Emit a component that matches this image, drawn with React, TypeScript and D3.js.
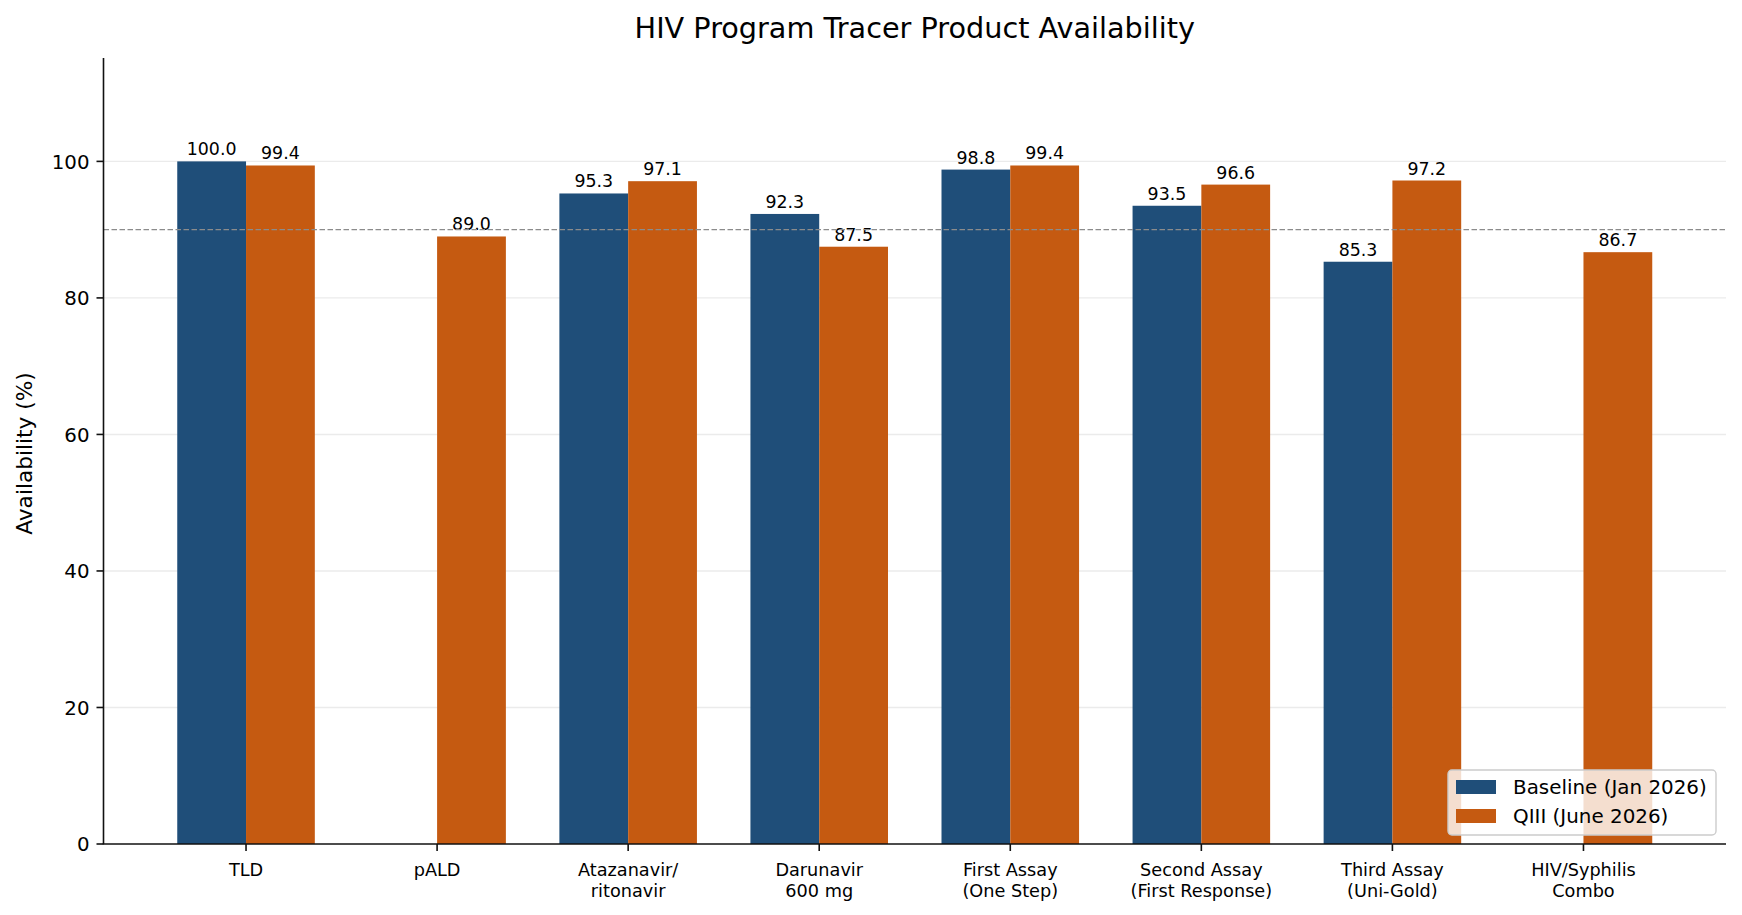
import { useEffect, useRef } from "react";
import * as d3 from "d3";

const categories = [
  ["TLD"],
  ["pALD"],
  ["Atazanavir/", "ritonavir"],
  ["Darunavir", "600 mg"],
  ["First Assay", "(One Step)"],
  ["Second Assay", "(First Response)"],
  ["Third Assay", "(Uni-Gold)"],
  ["HIV/Syphilis", "Combo"],
];
const baseline: (number | null)[] = [100.0, null, 95.3, 92.3, 98.8, 93.5, 85.3, null];
const q3: (number | null)[] = [99.4, 89.0, 97.1, 87.5, 99.4, 96.6, 97.2, 86.7];
const seriesNames = ["Baseline (Jan 2026)", "QIII (June 2026)"];
const seriesColors = ["#1f4e79", "#c55a11"];
const yTicks = [0, 20, 40, 60, 80, 100];
const targetLine = 90;

const W = 1742;
const H = 915;
const FONT = "'DejaVu Sans', sans-serif";

export default function App() {
  const svgRef = useRef<SVGSVGElement>(null);

  useEffect(() => {
    if (!svgRef.current) return;
    const svg = d3.select(svgRef.current);
    svg.selectAll("*").remove();

    const left = 103.5, right = 1726, top = 59, bottom = 844;
    const barW = 0.36;
    const pad = 0.05 * (categories.length - 1 + barW * 2);
    const x = d3.scaleLinear()
      .domain([-barW - pad, categories.length - 1 + barW + pad])
      .range([left, right]);
    const y = d3.scaleLinear().domain([0, 115]).range([bottom, top]);

    svg.append("rect").attr("width", W).attr("height", H).attr("fill", "#fff");

    // grid
    svg.append("g")
      .selectAll("line")
      .data(yTicks.filter((t) => t > 0))
      .enter()
      .append("line")
      .attr("x1", left)
      .attr("x2", right)
      .attr("y1", (d) => y(d))
      .attr("y2", (d) => y(d))
      .style("stroke", "#ebebeb")
      .style("stroke-width", 1.4);

    // bars
    const series = [baseline, q3];
    series.forEach((vals, s) => {
      const off = s === 0 ? -barW / 2 : barW / 2;
      const data = vals
        .map((v, i) => ({ v, i }))
        .filter((d) => d.v !== null) as { v: number; i: number }[];
      const g = svg.append("g");
      g.selectAll("rect")
        .data(data)
        .enter()
        .append("rect")
        .attr("x", (d) => x(d.i + off - barW / 2))
        .attr("width", x(barW) - x(0))
        .attr("y", (d) => y(d.v))
        .attr("height", (d) => y(0) - y(d.v))
        .style("fill", seriesColors[s]);
      g.selectAll("text")
        .data(data)
        .enter()
        .append("text")
        .attr("x", (d) => x(d.i + off))
        .attr("y", (d) => y(d.v) - 6)
        .attr("text-anchor", "middle")
        .style("font-family", FONT)
        .style("font-size", "17.4px")
        .style("fill", "#000")
        .text((d) => d.v.toFixed(1));
    });

    // target line
    svg.append("line")
      .attr("x1", left)
      .attr("x2", right)
      .attr("y1", y(targetLine))
      .attr("y2", y(targetLine))
      .style("stroke", "#8c8c8c")
      .style("stroke-width", 1.3)
      .style("stroke-dasharray", "5.5,2.5");

    // spines
    svg.append("line")
      .attr("x1", left).attr("x2", left)
      .attr("y1", top - 1).attr("y2", bottom)
      .style("stroke", "#111").style("stroke-width", 1.6);
    svg.append("line")
      .attr("x1", left - 0.8).attr("x2", right)
      .attr("y1", bottom).attr("y2", bottom)
      .style("stroke", "#111").style("stroke-width", 1.6);

    // y ticks
    const yt = svg.append("g");
    yTicks.forEach((t) => {
      yt.append("line")
        .attr("x1", left - 7).attr("x2", left)
        .attr("y1", y(t)).attr("y2", y(t))
        .style("stroke", "#111").style("stroke-width", 1.6);
      yt.append("text")
        .attr("x", left - 14)
        .attr("y", y(t))
        .attr("dy", "0.36em")
        .attr("text-anchor", "end")
        .style("font-family", FONT)
        .style("font-size", "19.8px")
        .style("fill", "#000")
        .text(t);
    });

    // x ticks
    const xt = svg.append("g");
    categories.forEach((lines, i) => {
      xt.append("line")
        .attr("x1", x(i)).attr("x2", x(i))
        .attr("y1", bottom).attr("y2", bottom + 7)
        .style("stroke", "#111").style("stroke-width", 1.6);
      const txt = xt.append("text")
        .attr("text-anchor", "middle")
        .style("font-family", FONT)
        .style("font-size", "17.7px")
        .style("fill", "#000");
      lines.forEach((l, k) => {
        txt.append("tspan")
          .attr("x", x(i))
          .attr("y", bottom + 32 + k * 20.5)
          .text(l);
      });
    });

    // y label
    svg.append("text")
      .attr("transform", `translate(31.6,${(top + bottom) / 2 + 2}) rotate(-90)`)
      .attr("text-anchor", "middle")
      .style("font-family", FONT)
      .style("font-size", "21.7px")
      .style("fill", "#000")
      .text("Availability (%)");

    // title
    svg.append("text")
      .attr("x", (left + right) / 2)
      .attr("y", 38)
      .attr("text-anchor", "middle")
      .style("font-family", FONT)
      .style("font-size", "28.7px")
      .style("fill", "#000")
      .text("HIV Program Tracer Product Availability");

    // legend
    const lg = svg.append("g").attr("transform", "translate(1448,770)");
    lg.append("rect")
      .attr("width", 268)
      .attr("height", 65)
      .attr("rx", 4)
      .style("fill", "rgba(255,255,255,0.8)")
      .style("stroke", "#cccccc")
      .style("stroke-width", 1.4);
    seriesNames.forEach((name, i) => {
      const row = lg.append("g").attr("transform", `translate(0,${17 + i * 29})`);
      row.append("rect")
        .attr("x", 8)
        .attr("y", -7)
        .attr("width", 40)
        .attr("height", 14)
        .style("fill", seriesColors[i]);
      row.append("text")
        .attr("x", 65)
        .attr("y", 0)
        .attr("dy", "0.36em")
        .style("font-family", FONT)
        .style("font-size", "19.9px")
        .style("fill", "#000")
        .text(name);
    });
  }, []);

  return (
    <svg
      ref={svgRef}
      width={W}
      height={H}
      style={{ position: "absolute", left: 0, top: 0, display: "block" }}
    />
  );
}
